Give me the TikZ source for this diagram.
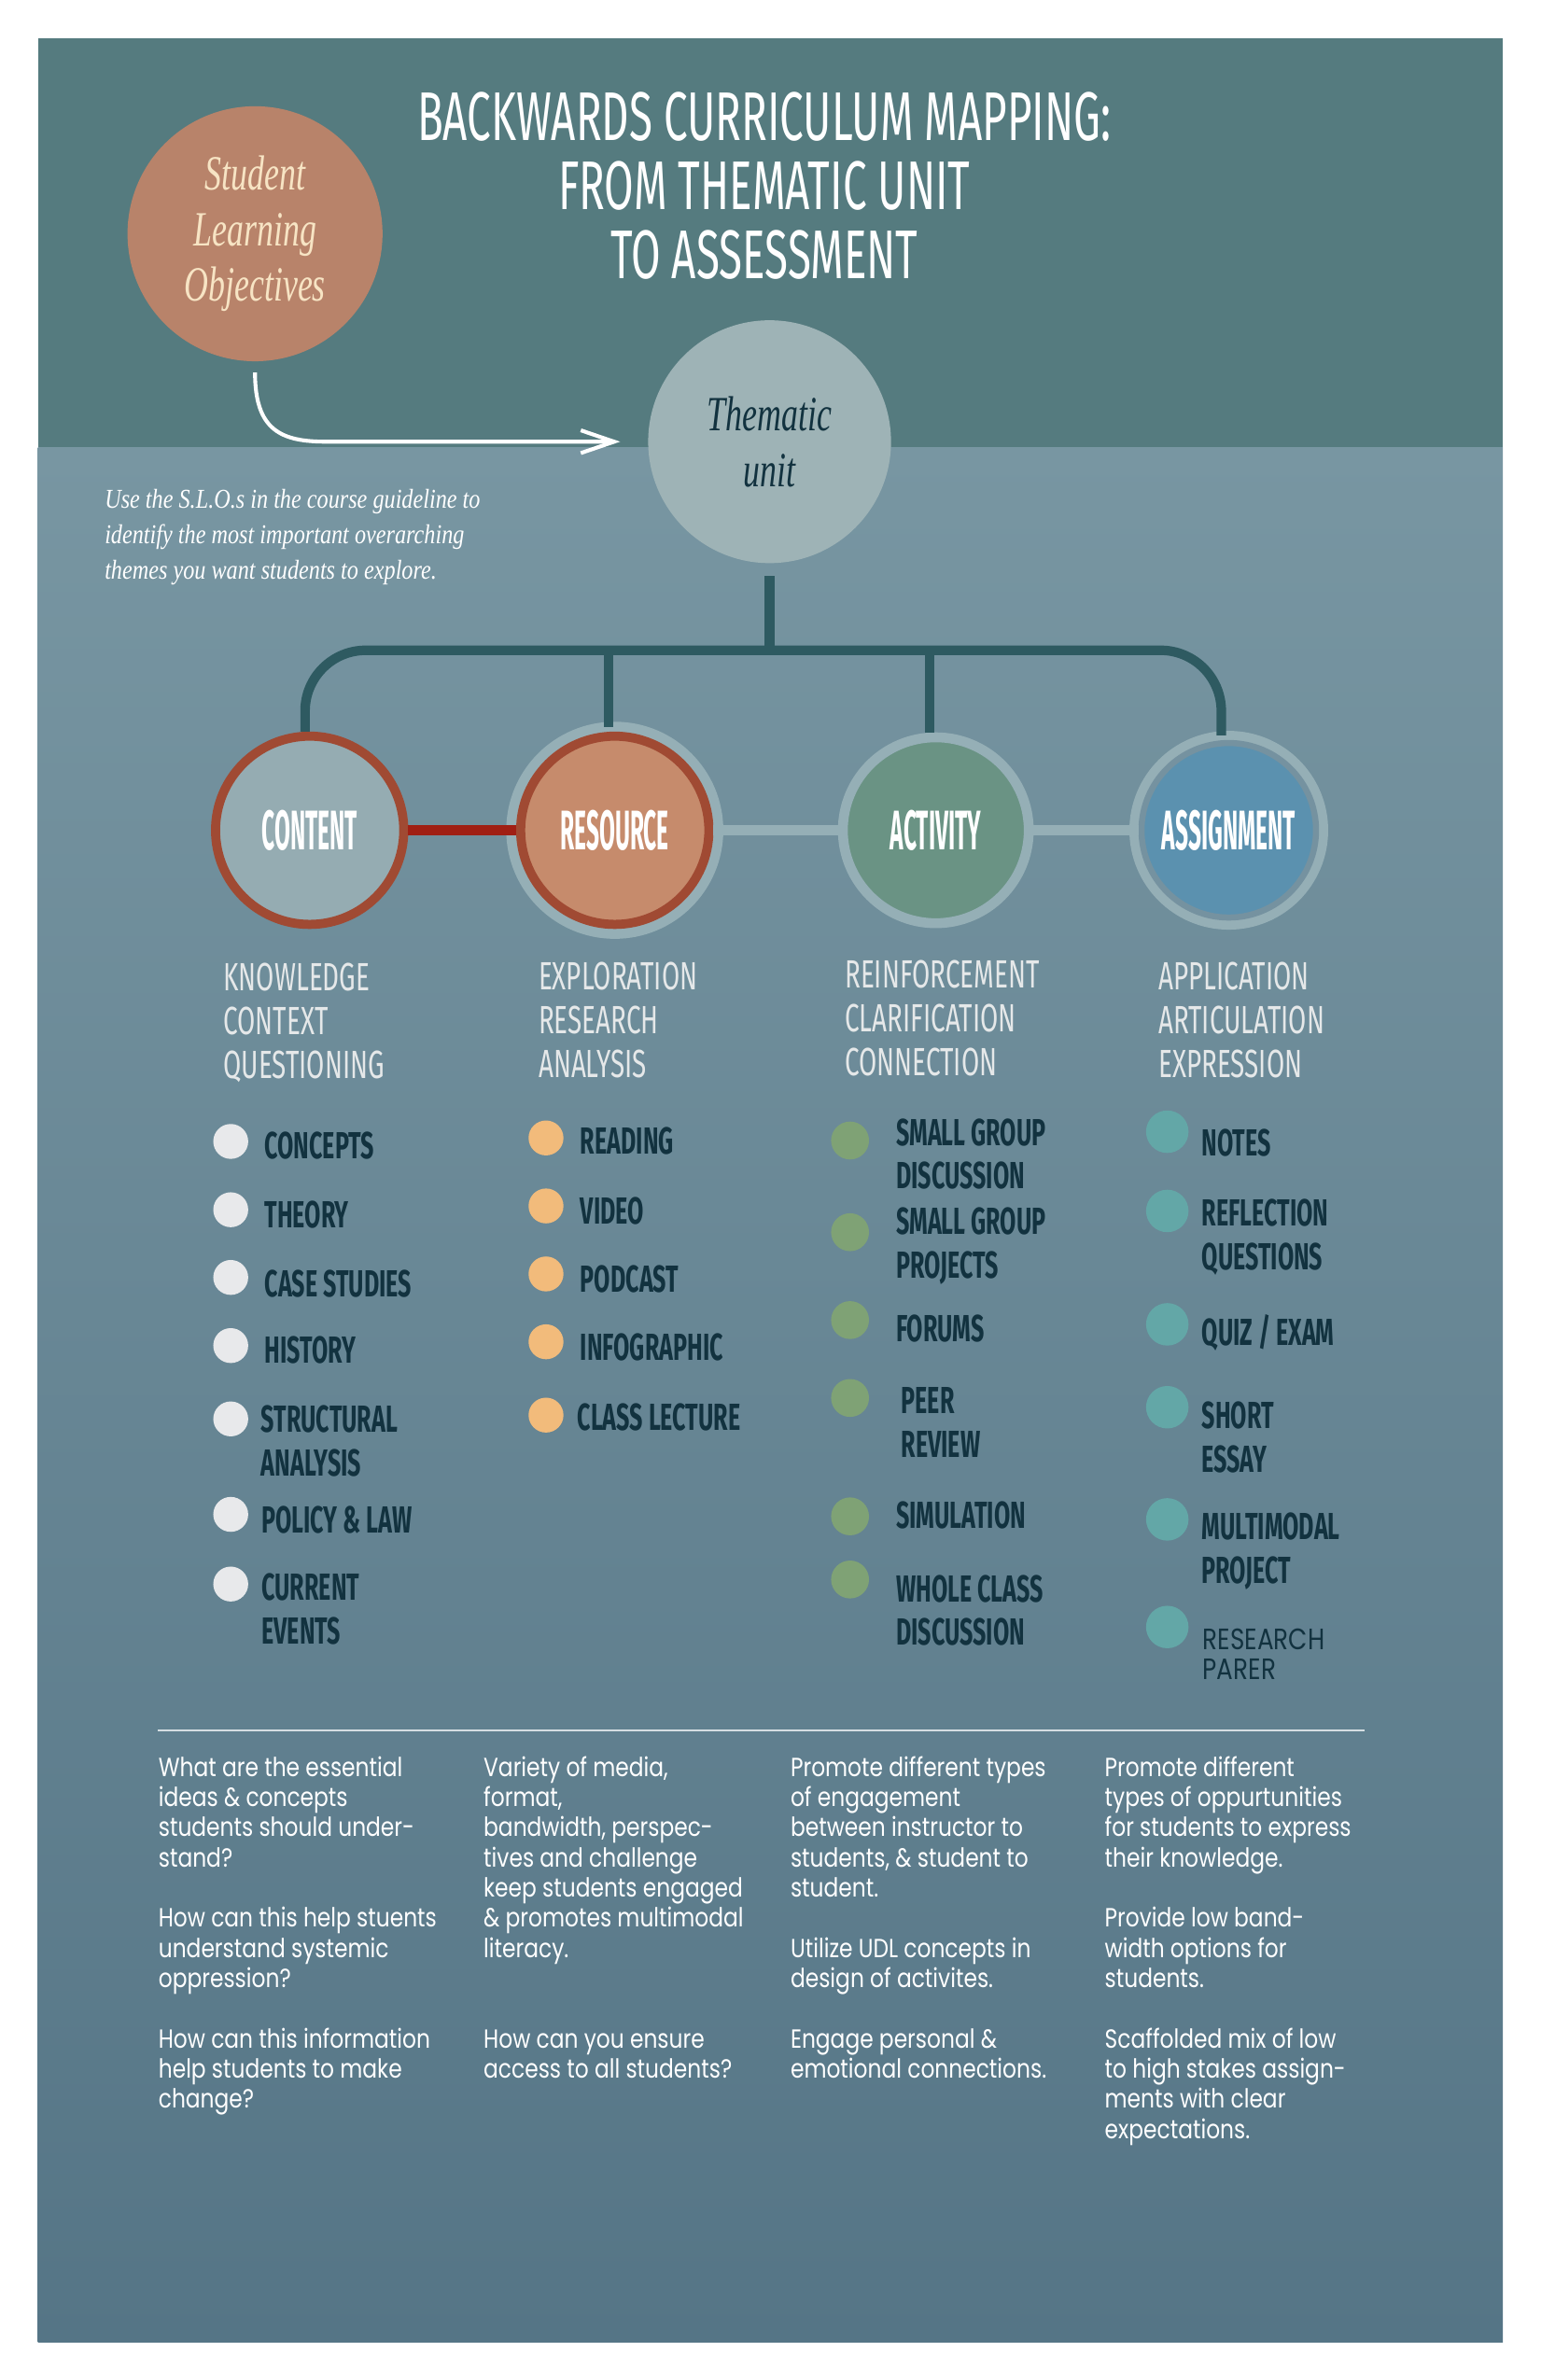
\documentclass[tikz,border=0pt]{standalone}
\usepackage{fontspec}
\usetikzlibrary{arrows.meta,positioning,calc}
\newfontfamily\brushfont[FakeStretch=0.62]{Fira Sans}
\newfontfamily\headfont[FakeStretch=0.66]{Fira Sans}
\newfontfamily\labelfont[FakeStretch=0.41]{Fira Sans}
\newfontfamily\handfont[FakeStretch=0.68]{Liberation Serif}
\newfontfamily\smallhand[FakeStretch=0.83]{Liberation Serif}
\newfontfamily\notefont[FakeStretch=0.83]{Poppins}
\definecolor{band}{HTML}{557B7F}
\definecolor{lowtop}{HTML}{7896A2}
\definecolor{lowbot}{HTML}{557586}
\definecolor{slofill}{HTML}{B8836A}
\definecolor{cream}{HTML}{F7E4C4}
\definecolor{themafill}{HTML}{9EB3B6}
\definecolor{ink}{HTML}{12323F}
\definecolor{treec}{HTML}{2E5A61}
\definecolor{contfill}{HTML}{95ACB2}
\definecolor{ring}{HTML}{A04A33}
\definecolor{redbar}{HTML}{A01F14}
\definecolor{resfill}{HTML}{C68B6C}
\definecolor{halo}{HTML}{95AFB6}
\definecolor{actfill}{HTML}{6A9384}
\definecolor{asgfill}{HTML}{5B91AF}
\definecolor{gapc}{HTML}{7592A0}
\definecolor{headc}{HTML}{E5E8E9}
\definecolor{cdotc}{HTML}{E8E9EB}
\definecolor{rdotc}{HTML}{F2BB7B}
\definecolor{adotc}{HTML}{7FA275}
\definecolor{sdotc}{HTML}{63A7A7}
\definecolor{rulec}{HTML}{D5DEE2}

\begin{document}
\begin{tikzpicture}[
  x=0.16256mm, y=-0.16256mm,
  hubnode/.style={circle, inner sep=0pt, text=white, font=\labelfont\bfseries\fontsize{17}{17}\selectfont},
  heading/.style={anchor=west, inner sep=0pt, align=left, text=headc, font=\headfont\fontsize{12}{13.4}\selectfont},
  item/.style={anchor=west, inner sep=0pt, align=left, text=ink, font=\brushfont\bfseries\fontsize{11.5}{13.3}\selectfont},
  note/.style={anchor=north west, inner sep=0pt, align=left, text=white, font=\notefont\fontsize{8}{9.2}\selectfont},
  cdot/.style={circle, inner sep=0pt, fill=cdotc, minimum size=3.74mm},
  rdot/.style={circle, inner sep=0pt, fill=rdotc, minimum size=3.74mm},
  adot/.style={circle, inner sep=0pt, fill=adotc, minimum size=4.06mm},
  sdot/.style={circle, inner sep=0pt, fill=sdotc, minimum size=4.55mm},
  tree/.style={draw=treec, line width=1.02mm},
  bar/.style={line width=1.1mm},
]
\useasboundingbox (0,0) rectangle (1015,1568);
\fill[white] (0,0) rectangle (1015,1568);

% background panel
\fill[band] (25,25) rectangle (990,295);
\shade[top color=lowtop, bottom color=lowbot] (25,295) rectangle (990,1543);

% title and objectives
\node[align=center, text=white, font=\brushfont\fontsize{21}{21}\selectfont] (title) at (503.5,122.5)
  {BACKWARDS CURRICULUM MAPPING:\\FROM THEMATIC UNIT\\TO ASSESSMENT};
\node[circle, fill=slofill, minimum size=27.31mm, inner sep=0pt, align=center, text=cream,
  font=\handfont\itshape\fontsize{15}{17}\selectfont] (slo) at (168,154) {Student\\Learning\\Objectives};
\node[circle, fill=themafill, minimum size=26.01mm, inner sep=0pt, align=center, text=ink,
  font=\handfont\itshape\fontsize{15}{17}\selectfont] (thema) at (507,291) {Thematic\\unit};

\coordinate (bend) at ($(slo.south |- thema.west)+(47,0)$);
\draw[white, line width=0.41mm, -{Straight Barb[length=3.58mm, width=2.44mm]}]
  ([yshift=-1.14mm]slo.south) .. controls +(0,38) and +(-30,0) .. (bend) -- ([xshift=-2.93mm]thema.west);

\node[anchor=west, inner sep=0pt, align=left, text=white, font=\smallhand\itshape\fontsize{8.3}{10.8}\selectfont] (slonote) at (68.6,354)
  {Use the S.L.O.s in the course guideline to\\identify the most important overarching\\themes you want students to explore.};

% the four hubs
\node[hubnode, minimum size=20.16mm, fill=contfill, draw=ring, line width=0.975mm] (cont) at (204,547) {CONTENT};
\node[hubnode, minimum size=20.16mm, fill=resfill, draw=ring, line width=0.975mm,
  preaction={draw=halo, line width=3.09mm}] (res) at (405,547) {RESOURCE};
\node[hubnode, minimum size=19.91mm, fill=actfill, draw=halo, line width=1.057mm] (act) at (616.5,547) {ACTIVITY};
\node[hubnode, minimum size=18.69mm, fill=asgfill, draw=gapc, line width=0.65mm,
  preaction={draw=halo, line width=2.6mm}] (asg) at (809.5,547) {ASSIGNMENT};

\draw[bar, redbar] (cont) -- (res);
\draw[bar, halo] (res) -- (act);
\draw[bar, halo] (act) -- (asg);

% tree from the thematic unit
\coordinate (hub) at ($(thema.south)+(0,57)$);
\coordinate (stemC) at ([xshift=-0.49mm]cont.north);
\coordinate (stemR) at ([xshift=-0.65mm, yshift=0.5mm]res.north);
\coordinate (stemT) at ([xshift=-0.65mm]act.north);
\coordinate (stemA) at ([xshift=-0.8mm, yshift=0.5mm]asg.north);
\draw[tree] ([yshift=-1.3mm]thema.south) -- (hub);
\draw[tree, rounded corners=6.5mm] (stemC) |- (hub) -| (stemA);
\draw[tree] (stemR |- hub) -- (stemR);
\draw[tree] (stemT |- hub) -- (stemT);

% headings
\node[heading] (hc) at (146.8,674) {KNOWLEDGE\\CONTEXT\\QUESTIONING};
\node[heading] (hr) at (354.4,672) {EXPLORATION\\RESEARCH\\ANALYSIS};
\node[heading] (ha) at (556.2,671) {REINFORCEMENT\\CLARIFICATION\\CONNECTION};
\node[heading] (hs) at (762.8,672) {APPLICATION\\ARTICULATION\\EXPRESSION};

% content items
\node[cdot] (cd1) at (152,752) {};    \node[item] (ci1) at (174,754.7) {CONCEPTS};
\node[cdot] (cd2) at (152,797) {};    \node[item] (ci2) at (174,800) {THEORY};
\node[cdot] (cd3) at (152,841.6) {};  \node[item] (ci3) at (174,845.6) {CASE STUDIES};
\node[cdot] (cd4) at (152,886.5) {};  \node[item] (ci4) at (174,889.5) {HISTORY};
\node[cdot] (cd5) at (152,934.8) {};  \node[item] (ci5) at (171.7,949.5) {STRUCTURAL\\ANALYSIS};
\node[cdot] (cd6) at (152,997.7) {};  \node[item] (ci6) at (172,1001.3) {POLICY \& LAW};
\node[cdot] (cd7) at (152,1043.6) {}; \node[item] (ci7) at (172,1060.3) {CURRENT\\EVENTS};

% resource items
\node[rdot] (rd1) at (359.7,749.7) {}; \node[item] (ri1) at (382,752) {READING};
\node[rdot] (rd2) at (359.7,794.5) {}; \node[item] (ri2) at (382,798) {VIDEO};
\node[rdot] (rd3) at (359.7,839.3) {}; \node[item] (ri3) at (382,842.8) {PODCAST};
\node[rdot] (rd4) at (359.7,884) {};   \node[item] (ri4) at (382,887.6) {INFOGRAPHIC};
\node[rdot] (rd5) at (359.7,932.3) {}; \node[item] (ri5) at (380,933.7) {CLASS LECTURE};

% activity items
\node[adot] (ad1) at (560,751.4) {};  \node[item] (ai1) at (590,760.3) {SMALL GROUP\\DISCUSSION};
\node[adot] (ad2) at (560,811.8) {};  \node[item] (ai2) at (590,820.7) {SMALL GROUP\\PROJECTS};
\node[adot] (ad3) at (560,869.7) {};  \node[item] (ai3) at (590,875) {FORUMS};
\node[adot] (ad4) at (560,921) {};    \node[item] (ai4) at (593.3,937.2) {PEER\\REVIEW};
\node[adot] (ad5) at (560,999) {};    \node[item] (ai5) at (590,998) {SIMULATION};
\node[adot] (ad6) at (560,1040.6) {}; \node[item] (ai6) at (590,1061) {WHOLE CLASS\\DISCUSSION};

% assignment items
\node[sdot] (sd1) at (769,745.6) {};  \node[item] (si1) at (791.4,752.8) {NOTES};
\node[sdot] (sd2) at (769,797.8) {};  \node[item] (si2) at (791.4,815.3) {REFLECTION\\QUESTIONS};
\node[sdot] (sd3) at (769,872.5) {};  \node[item] (si3) at (791.4,878.3) {QUIZ / EXAM};
\node[sdot] (sd4) at (769,927.1) {};  \node[item] (si4) at (791.4,947) {SHORT\\ESSAY};
\node[sdot] (sd5) at (769,1001) {};   \node[item] (si5) at (791.4,1022) {MULTIMODAL\\PROJECT};
\node[sdot] (sd6) at (769,1071.9) {}; \node[item, font=\notefont\fontsize{9}{9}\selectfont] (si6) at (792,1089.8) {RESEARCH\\PARER};

% notes below the rule
\draw[rulec, line width=0.21mm] (104,1140) -- (899,1140);
\node[note] (n1) at (104,1155.8) {\strut What are the essential\\ideas \& concepts\\students should under-\\stand?\\[9.2pt]How can this help stuents\\understand systemic\\oppression?\\[9.2pt]How can this information\\help students to make\\change?};
\node[note] (n2) at (318.2,1155.8) {\strut Variety of media,\\format,\\bandwidth, perspec-\\tives and challenge\\keep students engaged\\\& promotes multimodal\\literacy.\\[18.4pt]How can you ensure\\access to all students?};
\node[note] (n3) at (520.4,1155.8) {\strut Promote different types\\of engagement\\between instructor to\\students, \& student to\\student.\\[9.2pt]Utilize UDL concepts in\\design of activites.\\[9.2pt]Engage personal \&\\emotional connections.};
\node[note] (n4) at (727.4,1155.8) {\strut Promote different\\types of oppurtunities\\for students to express\\their knowledge.\\[9.2pt]Provide low band-\\width options for\\students.\\[9.2pt]Scaffolded mix of low\\to high stakes assign-\\ments with clear\\expectations.};
\end{tikzpicture}
\end{document}
